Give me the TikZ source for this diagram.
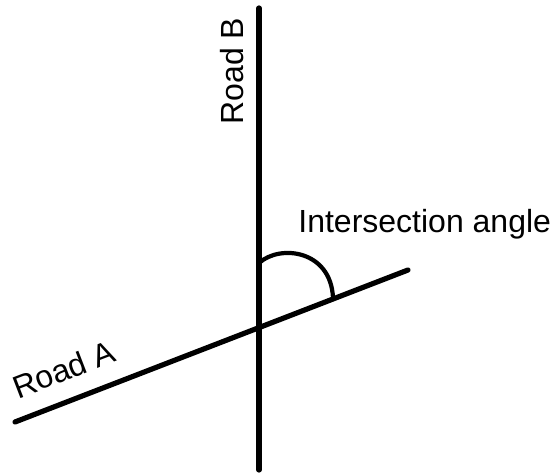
\documentclass[tikz,border=0pt]{standalone}
\usepackage{fontspec}
\setmainfont{Liberation Sans}
\usetikzlibrary{positioning, calc}

\begin{document}
\begin{tikzpicture}[
    x=0.5pt, y=-0.5pt,
    road/.style={line width=2.6pt, line cap=round},
    anglearc/.style={line width=2.1pt},
    label/.style={inner sep=0pt, font=\fontsize{16}{19}\selectfont}
]
\useasboundingbox (0,0) rectangle (556,474);

% Strade
\coordinate (a1) at (15,422);
\coordinate (a2) at (408,270);
\coordinate (b1) at (259,8);
\coordinate (b2) at (259,470);
\draw[road] (a1) -- (a2);
\draw[road] (b1) -- (b2);

% Angolo
\coordinate (arcstart) at (259,263);
\coordinate (arcend) at (333,298);
\draw[anglearc] (arcstart) .. controls (280,244) and (331,250) .. (arcend);

% Etichette
\node[label, anchor=base, rotate=90] (roadB) at (243,71) {Road B};
\node[label, anchor=base, rotate=21] (roadA) at (68,380) {Road A};
\node[label, anchor=base west] (angle) at (298,233) {Intersection angle};

\end{tikzpicture}
\end{document}
